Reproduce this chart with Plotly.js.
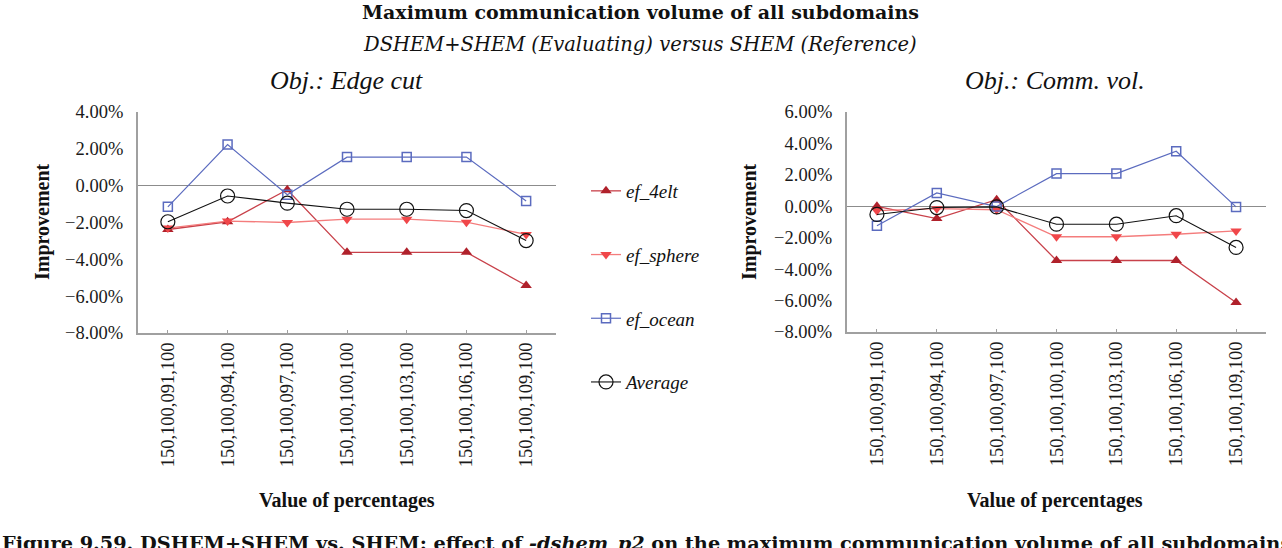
<!DOCTYPE html>
<html>
<head>
<meta charset="utf-8">
<script src="https://cdn.plot.ly/plotly-3.0.1.min.js"></script>
<style>
  html, body { margin: 0; padding: 0; background: #fff; }
  #chart { width: 1282px; height: 548px; }
</style>
</head>
<body>
<div id="chart"></div>
<script>
// ---- Data ----
const categories = ["150,100,091,100","150,100,094,100","150,100,097,100","150,100,100,100","150,100,103,100","150,100,106,100","150,100,109,100"];

// Obj.: Edge cut (left panel), values in %
const edge_4elt   = [-2.38, -1.96, -0.22, -3.62, -3.62, -3.62, -5.42];
const edge_sphere = [-2.30, -1.92, -2.00, -1.82, -1.82, -1.98, -2.65];
const edge_ocean  = [-1.15, 2.23, -0.49, 1.55, 1.55, 1.55, -0.83];
const edge_avg    = [-1.96, -0.56, -0.95, -1.28, -1.28, -1.35, -2.98];

// Obj.: Comm. vol. (right panel), values in %
const comm_4elt   = [0.00, -0.78, 0.42, -3.45, -3.45, -3.45, -6.12];
const comm_sphere = [-0.28, -0.15, -0.22, -1.94, -1.94, -1.78, -1.57];
const comm_ocean  = [-1.24, 0.85, -0.02, 2.08, 2.08, 3.50, -0.04];
const comm_avg    = [-0.52, -0.08, -0.04, -1.14, -1.14, -0.60, -2.62];

const seriesNames = ["ef_4elt", "ef_sphere", "ef_ocean", "Average"];
const yTicksLeft  = [-8, -6, -4, -2, 0, 2, 4];
const yTicksRight = [-8, -6, -4, -2, 0, 2, 4, 6];

const pctLabel = v => (v < 0 ? "\u2212" : "") + Math.abs(v).toFixed(2) + "%";

// ---- Styles ----
const styles = [
  {line: {color: "#c8414a", width: 1.3}, marker: {symbol: "triangle-up", size: 10, color: "#b0212b"}},
  {line: {color: "#f47c7c", width: 1.3}, marker: {symbol: "triangle-down", size: 10, color: "#f0474a"}},
  {line: {color: "#5b6bbf", width: 1.2}, marker: {symbol: "square-open", size: 9, color: "#5b6bbf", line: {width: 1.5}}},
  {line: {color: "#111111", width: 1.1}, marker: {symbol: "circle-open", size: 14, color: "#111111", line: {width: 1.2}}}
];

const leftData  = [edge_4elt, edge_sphere, edge_ocean, edge_avg];
const rightData = [comm_4elt, comm_sphere, comm_ocean, comm_avg];

const traces = [];
leftData.forEach((ys, i) => {
  traces.push({
    type: "scatter", mode: "lines+markers",
    x: categories, y: ys, xaxis: "x", yaxis: "y",
    name: seriesNames[i], legendgroup: seriesNames[i], showlegend: true,
    line: styles[i].line, marker: styles[i].marker, cliponaxis: false
  });
});
rightData.forEach((ys, i) => {
  traces.push({
    type: "scatter", mode: "lines+markers",
    x: categories, y: ys, xaxis: "x2", yaxis: "y2",
    name: seriesNames[i], legendgroup: seriesNames[i], showlegend: false,
    line: styles[i].line, marker: styles[i].marker, cliponaxis: false
  });
});

const W = 1282, H = 548;
const px = v => v / W;
const py = v => 1 - v / H;

const serif = "'Liberation Serif', 'Times New Roman', serif";
const wide = "'DejaVu Serif', serif";
const tickFont = {family: serif, size: 18.5, color: "#1a1a1a"};

function xAxis(domain, anchor) {
  return {
    domain: domain, anchor: anchor, type: "category",
    range: [-0.5, 6.5], tickangle: -90, tickfont: tickFont,
    showline: true, linecolor: "#a0a0a0", linewidth: 2,
    ticks: "inside", ticklen: 3, tickcolor: "#a0a0a0", tickwidth: 1,
    showgrid: false, zeroline: false, fixedrange: true
  };
}
function yAxis(domain, anchor, range, ticks) {
  return {
    domain: domain, anchor: anchor, range: range,
    tickmode: "array", tickvals: ticks, ticktext: ticks.map(pctLabel),
    tickfont: tickFont, ticklabelstandoff: 9,
    showline: true, linecolor: "#a0a0a0", linewidth: 2,
    ticks: "", showgrid: false,
    zeroline: true, zerolinecolor: "#8c8c8c", zerolinewidth: 1, fixedrange: true
  };
}

const layout = {
  width: W, height: H,
  margin: {l: 0, r: 0, t: 0, b: 0},
  paper_bgcolor: "#ffffff", plot_bgcolor: "#ffffff",
  font: {family: serif, color: "#111"},
  xaxis:  xAxis([px(138), px(556)], "y"),
  yaxis:  yAxis([py(333), py(112)], "x", [-8, 4], yTicksLeft),
  xaxis2: xAxis([px(847), px(1266)], "y2"),
  yaxis2: yAxis([py(332), py(112)], "x2", [-8, 6], yTicksRight),
  showlegend: true,
  legend: {
    x: px(586), y: py(172), xanchor: "left", yanchor: "top",
    font: {family: serif, size: 19, color: "#111", style: "italic"},
    tracegroupgap: 36, bgcolor: "rgba(0,0,0,0)", borderwidth: 0
  },
  annotations: [
    {text: "<b>Maximum communication volume of all subdomains</b>", xref: "paper", yref: "paper",
     x: px(640), y: py(12), xanchor: "center", yanchor: "middle", showarrow: false,
     font: {family: wide, size: 19, color: "#111"}},
    {text: "<i>DSHEM+SHEM (Evaluating) versus SHEM (Reference)</i>", xref: "paper", yref: "paper",
     x: px(640), y: py(45), xanchor: "center", yanchor: "middle", showarrow: false,
     font: {family: wide, size: 19.5, color: "#111"}},
    {text: "<i>Obj.: Edge cut</i>", xref: "paper", yref: "paper",
     x: px(346), y: py(80), xanchor: "center", yanchor: "middle", showarrow: false,
     font: {family: serif, size: 26, color: "#111"}},
    {text: "<i>Obj.: Comm. vol.</i>", xref: "paper", yref: "paper",
     x: px(1055), y: py(80), xanchor: "center", yanchor: "middle", showarrow: false,
     font: {family: serif, size: 26, color: "#111"}},
    {text: "<b>Improvement</b>", xref: "paper", yref: "paper", textangle: -90,
     x: px(42), y: py(222), xanchor: "center", yanchor: "middle", showarrow: false,
     font: {family: serif, size: 20, color: "#111"}},
    {text: "<b>Improvement</b>", xref: "paper", yref: "paper", textangle: -90,
     x: px(749), y: py(222), xanchor: "center", yanchor: "middle", showarrow: false,
     font: {family: serif, size: 20, color: "#111"}},
    {text: "<b>Value of percentages</b>", xref: "paper", yref: "paper",
     x: px(347), y: py(500), xanchor: "center", yanchor: "middle", showarrow: false,
     font: {family: serif, size: 20, color: "#111"}},
    {text: "<b>Value of percentages</b>", xref: "paper", yref: "paper",
     x: px(1055), y: py(500), xanchor: "center", yanchor: "middle", showarrow: false,
     font: {family: serif, size: 20, color: "#111"}},
    {text: "<b>Figure 9.59. DSHEM+SHEM vs. SHEM: effect of <i>-dshem_p2</i> on the maximum communication volume of all subdomains</b>",
     xref: "paper", yref: "paper",
     x: px(0), y: py(530), xanchor: "left", yanchor: "top", showarrow: false,
     font: {family: wide, size: 19.3, color: "#111"}}
  ]
};

Plotly.newPlot("chart", traces, layout, {staticPlot: true, displayModeBar: false});
</script>
</body>
</html>
